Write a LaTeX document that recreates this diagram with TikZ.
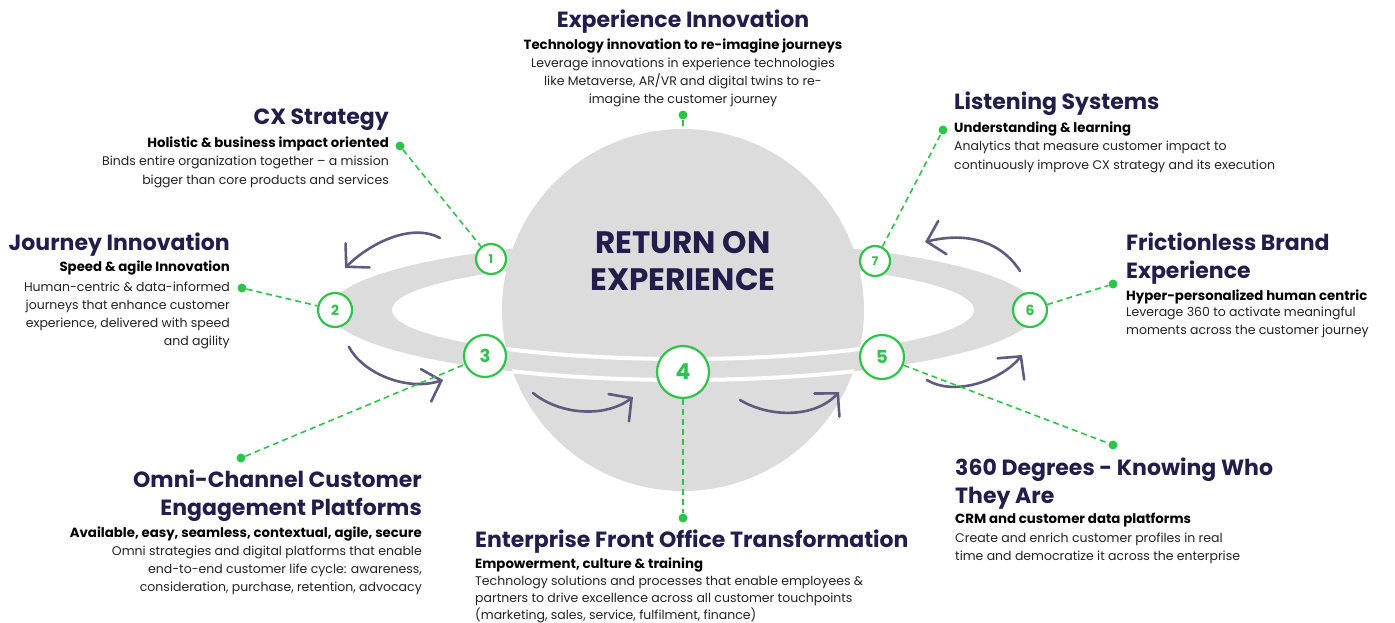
\documentclass[tikz,border=0pt]{standalone}
\usepackage{fontspec}
\setmainfont{Poppins}
\usetikzlibrary{arrows.meta}

\definecolor{ink}{HTML}{221D4A}
\definecolor{leaf}{HTML}{2EC44A}
\definecolor{ringgray}{HTML}{DCDCDC}
\definecolor{turnink}{HTML}{5F5A7E}
\definecolor{bodyink}{HTML}{222222}

\tikzset{
  stage/.style={circle,draw=leaf,line width=2.2pt,fill=white,text=leaf,inner sep=0pt,minimum size=#1},
  knob/.style={circle,fill=leaf,inner sep=0pt,minimum size=9pt},
  lead/.style={leaf,line width=1.6pt,dash pattern=on 6pt off 4pt},
  turn/.style={turnink,line width=2.6pt,line cap=round,
    -{Straight Barb[length=16pt,width=34pt,line cap=round]}},
  head/.style={ink,font=\fontsize{22}{28}\selectfont\bfseries,inner sep=0pt},
  tag/.style={black,font=\fontsize{13.3}{15}\selectfont\bfseries,inner sep=0pt},
  blurb/.style={bodyink,font=\fontsize{12.5}{18}\selectfont,inner sep=0pt},
}

\begin{document}
\begin{tikzpicture}[x=1pt,y=-1pt]
  \useasboundingbox (0,0) rectangle (1395,623);

  % ring behind, then the planet
  \fill[ringgray,even odd rule] (683,310) ellipse [x radius=353,y radius=70]
                                (683,310) ellipse [x radius=291,y radius=49];
  \node[circle,fill=ringgray,minimum size=362pt,inner sep=0pt] (planet) at (683,310) {};
  % front half of the ring over the planet
  \begin{scope}
    \clip (683,310) circle [radius=181];
    \clip (300,311) rectangle (1100,420);
    \fill[ringgray,draw=white,line width=4pt,even odd rule]
      (683,310) ellipse [x radius=353,y radius=70]
      (683,310) ellipse [x radius=291,y radius=49];
  \end{scope}
  \node[ink,font=\fontsize{31}{37}\selectfont\bfseries,align=center,anchor=base] (core) at (683,290)
    {RETURN ON\\EXPERIENCE};

  % turning arrows round the ring
  \draw[turn] (440,238) .. controls (410,222) and (368,245) .. (345,268);
  \draw[turn] (349,347) .. controls (362,372) and (405,392) .. (443,380);
  \draw[turn] (533,393) .. controls (560,415) and (605,418) .. (633,397);
  \draw[turn] (740,400) .. controls (770,418) and (815,418) .. (839,392);
  \draw[turn] (927,380) .. controls (955,397) and (1002,380) .. (1022,355);
  \draw[turn] (1020,271) .. controls (1000,240) and (965,232) .. (925,242);

  % numbered stages
  \node[stage=30pt,font=\fontsize{12}{12}\selectfont\bfseries] (c1) at (491,259) {1};
  \node[stage=34pt,font=\fontsize{14}{14}\selectfont\bfseries] (c2) at (335,310) {2};
  \node[stage=42pt,font=\fontsize{18}{18}\selectfont\bfseries] (c3) at (485,356) {3};
  \node[stage=52pt,font=\fontsize{22}{22}\selectfont\bfseries] (c4) at (683,372) {4};
  \node[stage=44pt,font=\fontsize{18}{18}\selectfont\bfseries] (c5) at (882,357) {5};
  \node[stage=34pt,font=\fontsize{14}{14}\selectfont\bfseries] (c6) at (1030,310) {6};
  \node[stage=30pt,font=\fontsize{12}{12}\selectfont\bfseries] (c7) at (875,261) {7};

  % pins at the text blocks
  \node[knob] (d0) at (683,115) {};
  \node[knob] (d1) at (400,146) {};
  \node[knob] (d2) at (242,288) {};
  \node[knob] (d3) at (241,458) {};
  \node[knob] (d4) at (683,518) {};
  \node[knob] (d5) at (1113,445) {};
  \node[knob] (d6) at (1113,284) {};
  \node[knob] (d7) at (943,130) {};

  \draw[lead] (d0) -- (planet);
  \draw[lead] (d1) -- (c1);
  \draw[lead] (d2) -- (c2);
  \draw[lead] (d3) -- (c3);
  \draw[lead] (c4) -- (d4);
  \draw[lead] (c5) -- (d5);
  \draw[lead] (c6) -- (d6);
  \draw[lead] (c7) -- (d7);

  % top (multi-line nodes sit on their last baseline)
  \node[head,anchor=base] (h0) at (683,28) {Experience Innovation};
  \node[tag,anchor=base] (g0) at (683,50) {Technology innovation to re-imagine journeys};
  \node[blurb,anchor=base,align=center] (b0) at (683,104)
    {Leverage innovations in experience technologies\\like Metaverse, AR/VR and digital twins to re-\\imagine the customer journey};

  % left side
  \node[head,anchor=base east] (h1) at (389,125) {CX Strategy};
  \node[tag,anchor=base east] (g1) at (389,148) {Holistic \& business impact oriented};
  \node[blurb,anchor=base east,align=right] (b1) at (389,184)
    {Binds entire organization together -- a mission\\bigger than core products and services};

  \node[head,anchor=base east] (h2) at (230,250) {Journey Innovation};
  \node[tag,anchor=base east] (g2) at (230,271) {Speed \& agile Innovation};
  \node[blurb,anchor=base east,align=right] (b2) at (230,345)
    {Human-centric \& data-informed\\journeys that enhance customer\\experience, delivered with speed\\and agility};

  \node[head,anchor=base east,align=right] (h3) at (422,515) {Omni-Channel Customer\\Engagement Platforms};
  \node[tag,anchor=base east] (g3) at (422,537) {Available, easy, seamless, contextual, agile, secure};
  \node[blurb,anchor=base east,align=right] (b3) at (422,591)
    {Omni strategies and digital platforms that enable\\end-to-end customer life cycle: awareness,\\consideration, purchase, retention, advocacy};

  % bottom
  \node[head,anchor=base west] (h4) at (475,547) {Enterprise Front Office Transformation};
  \node[tag,anchor=base west] (g4) at (475,568) {Empowerment, culture \& training};
  \node[blurb,anchor=base west,align=left,font=\fontsize{12.5}{17}\selectfont] (b4) at (475,619)
    {Technology solutions and processes that enable employees \&\\partners to drive excellence across all customer touchpoints\\(marketing, sales, service, fulfilment, finance)};

  % right side
  \node[head,anchor=base west,align=left] (h5) at (955,503) {360 Degrees - Knowing Who\\They Are};
  \node[tag,anchor=base west] (g5) at (955,523) {CRM and customer data platforms};
  \node[blurb,anchor=base west,align=left] (b5) at (955,560)
    {Create and enrich customer profiles in real\\time and democratize it across the enterprise};

  \node[head,anchor=base west,align=left] (h6) at (1126,278) {Frictionless Brand\\Experience};
  \node[tag,anchor=base west] (g6) at (1126,300) {Hyper-personalized human centric};
  \node[blurb,anchor=base west,align=left] (b6) at (1126,334)
    {Leverage 360 to activate meaningful\\moments across the customer journey};

  \node[head,anchor=base west] (h7) at (954,110) {Listening Systems};
  \node[tag,anchor=base west] (g7) at (954,133) {Understanding \& learning};
  \node[blurb,anchor=base west,align=left] (b7) at (954,169)
    {Analytics that measure customer impact to\\continuously improve CX strategy and its execution};
\end{tikzpicture}
\end{document}
